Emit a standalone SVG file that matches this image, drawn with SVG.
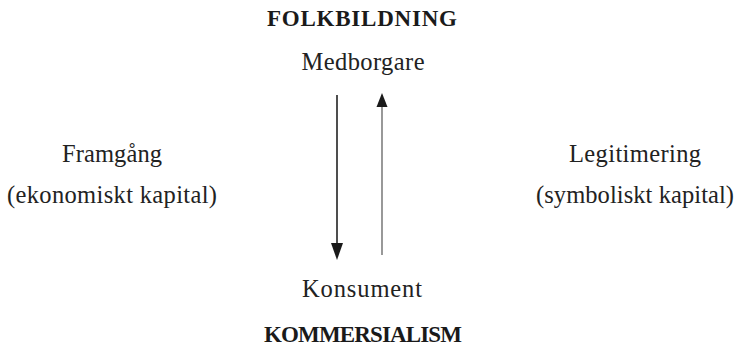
<svg xmlns="http://www.w3.org/2000/svg" width="738" height="348" viewBox="0 0 738 348">
<style>
.t{font-family:"Liberation Serif","Times New Roman",serif;font-size:24.5px;fill:#222;text-anchor:middle}
.b{font-family:"Liberation Serif","Times New Roman",serif;font-size:23px;font-weight:bold;fill:#1a1a1a;text-anchor:middle}
</style>
<rect width="738" height="348" fill="#fff"/>
<g id="folkbildning"><text class="b" x="362" y="26" textLength="190" lengthAdjust="spacing">FOLKBILDNING</text></g>
<g id="medborgare"><text class="t" x="363" y="70" textLength="123" lengthAdjust="spacing">Medborgare</text></g>
<g id="framgang"><text class="t" x="112" y="162" textLength="100" lengthAdjust="spacing">Framgång</text>
<text class="t" x="112" y="203" textLength="210" lengthAdjust="spacing">(ekonomiskt kapital)</text></g>
<g id="legitimering"><text class="t" x="635" y="162" textLength="132" lengthAdjust="spacing">Legitimering</text>
<text class="t" x="635" y="203" textLength="198" lengthAdjust="spacing">(symboliskt kapital)</text></g>
<g id="konsument"><text class="t" x="362" y="297" textLength="120" lengthAdjust="spacing">Konsument</text></g>
<g id="kommersialism"><text class="b" x="363" y="342" textLength="198" lengthAdjust="spacing">KOMMERSIALISM</text></g>
<g id="connectors">
<line x1="337" y1="95" x2="337" y2="246" stroke="#222" stroke-width="1.6"/>
<polygon points="331,243 343,243 337,260" fill="#1a1a1a"/>
<line x1="382" y1="255" x2="382" y2="104" stroke="#444" stroke-width="1.1"/>
<polygon points="376.5,107 387.5,107 382,93" fill="#1a1a1a"/>
</g>
</svg>
